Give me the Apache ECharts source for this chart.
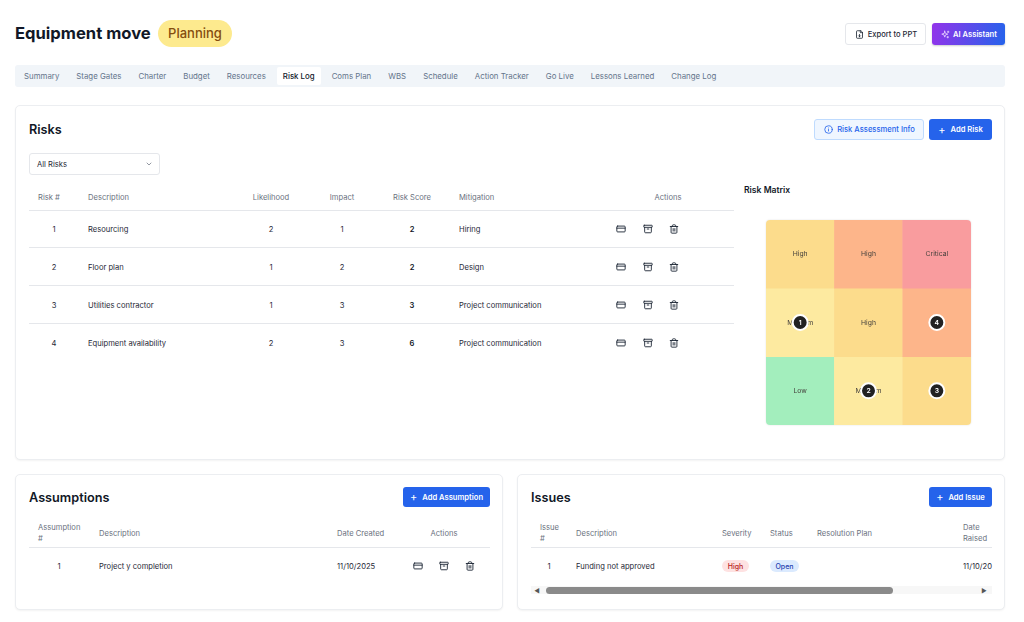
<!DOCTYPE html>
<html>
<head>
<meta charset="utf-8">
<title>Risk Log</title>
<script src="https://cdn.jsdelivr.net/npm/echarts@6/dist/echarts.min.js"></script>
<style>
html,body{margin:0;padding:0;background:#fff;width:1024px;height:622px;overflow:hidden;font-family:Inter,"Noto Sans",sans-serif;color:#1f2937}
body{position:relative;z-index:0;filter:blur(.4px)}
.abs{position:absolute;white-space:nowrap;line-height:1}
.card{position:absolute;box-sizing:border-box;background:#fff;border:1px solid #eceef1;border-radius:5px;box-shadow:0 1px 2px rgba(0,0,0,.05)}
.btn{position:absolute;box-sizing:border-box;display:flex;align-items:center;justify-content:center;border-radius:3px;font-size:7.6px;font-weight:600;white-space:nowrap}
.blue{background:#2563eb;color:#fff}
.line{position:absolute;height:1px;background:#e5e7eb}
.pill{position:absolute;display:flex;align-items:center;justify-content:center;border-radius:7px;font-size:7px;font-weight:500}
h2{position:absolute;margin:0;font-size:12.7px;line-height:1;font-weight:600;color:#111827}
#tabs{position:absolute;left:15px;top:65px;width:990px;height:22px;background:#f1f5f9;border-radius:3px;display:flex;align-items:center;padding-left:3px;box-sizing:border-box}
#tabs div{padding:0 6px;margin-right:5px;height:18px;line-height:18px;font-size:7.85px;color:#64748b;white-space:nowrap;border-radius:2px}
#tabs div.on{background:#fff;color:#0f172a;font-weight:500}
#matrix{position:absolute;left:766px;top:220px;width:205px;height:205px;border-radius:4px;overflow:hidden;box-shadow:0 0 2px rgba(0,0,0,.12)}
svg{position:absolute;fill:none;stroke:#1f2937;stroke-width:2.2;stroke-linecap:round;stroke-linejoin:round}
</style>
</head>
<body>
<div id="tabs"></div>
<div id="matrix"></div>
<script>
// page data
var tabs = ['Summary','Stage Gates','Charter','Budget','Resources','Risk Log','Coms Plan','WBS','Schedule','Action Tracker','Go Live','Lessons Learned','Change Log'];
var riskIds = [1, 2, 3, 4];
var riskNames = ['Resourcing', 'Floor plan', 'Utilities contractor', 'Equipment availability'];
var riskLikelihood = [2, 1, 1, 2];
var riskImpact = [1, 2, 3, 3];
var riskScore = [2, 2, 3, 6];
var riskMitigation = ['Hiring', 'Design', 'Project communication', 'Project communication'];
// risk matrix
var impactLevels = ['1', '2', '3'];
var likelihoodLevels = ['1', '2', '3'];
var cellScores = [[1, 2, 3], [2, 4, 6], [3, 6, 9]];
var cellLabels = [['Low','Medium','High'], ['Medium','High','High'], ['High','High','Critical']];
var cellColors = [['#a3eebd','#fdeaa0','#fcdc8c'], ['#fdeaa0','#fcdc8c','#fdb58a'], ['#fcdc8c','#fdb58a','#f99c9e']];

var icons = {
	card:'<rect x="2" y="5" width="20" height="14" rx="2"/><path d="M2 10h20"/>',
	archive:'<rect x="2" y="3" width="20" height="5" rx="1"/><path d="M4 8v11a2 2 0 0 0 2 2h12a2 2 0 0 0 2-2V8M10 12h4"/>',
	trash:'<path d="M3 6h18M19 6v14a2 2 0 0 1-2 2H7a2 2 0 0 1-2-2V6M8 6V4a2 2 0 0 1 2-2h4a2 2 0 0 1 2 2v2M10 11v6M14 11v6"/>',
	file:'<path d="M15 2H6a2 2 0 0 0-2 2v16a2 2 0 0 0 2 2h12a2 2 0 0 0 2-2V7z"/><path d="M14 2v5h6M12 12v6M9.5 15.5L12 18l2.5-2.5"/>',
	info:'<circle cx="12" cy="12" r="10"/><path d="M12 16v-4M12 8h.01"/>',
	spark:'<path d="M10 3l2 6 6 2-6 2-2 6-2-6-6-2 6-2zM19 3v4M21 5h-4M18 17v4M20 19h-4"/>',
	plus:'<path d="M5 12h14M12 5v14"/>',
	chevron:'<path d="M6 9l6 6 6-6"/>'
};

function add(html){
	var d = document.createElement('div');
	d.innerHTML = html;
	var el = d.firstChild;
	document.body.appendChild(el);
	return el;
}
// x is the left edge, or the middle when align is 'c'
function text(x, y, str, size, color, weight, align){
	var el = add('<div class="abs"></div>');
	el.textContent = str;
	el.style.left = x + 'px';
	el.style.top = (y + 0.7) + 'px';
	el.style.fontSize = (size || 8) + 'px';
	el.style.color = color || '#1f2937';
	el.style.fontWeight = weight || 400;
	el.style.transform = align == 'c' ? 'translate(-50%,-50%)' : 'translateY(-50%)';
	return el;
}
function icon(name, cx, cy, size, color){
	var s = size || 10;
	return add('<svg viewBox="0 0 24 24" width="'+s+'" height="'+s+'" style="left:'+(cx-s/2)+'px;top:'+(cy-s/2)+'px;stroke:'+(color||'#1f2937')+'">'+icons[name]+'</svg>');
}
function box(cls, x, y, w, h, extra){
	var el = add('<div class="'+cls+'"></div>');
	el.style.cssText = 'left:'+x+'px;top:'+y+'px;width:'+w+'px;height:'+h+'px;'+(extra||'');
	return el;
}
function hline(x1, x2, y){ box('line', x1, y, x2-x1, 1); }
function actions(xs, y){
	icon('card', xs[0], y);
	icon('archive', xs[1], y);
	icon('trash', xs[2], y);
}
function blueButton(x, y, w, h, label){
	var b = box('btn blue', x, y, w, h);
	b.innerHTML = '<span style="font-size:11px;font-weight:400;margin-right:5px">+</span>' + label;
}

// header
text(15, 32.3, 'Equipment move', 16.6, '#111827', 700);
var pill = box('pill', 158, 20, 74, 27, 'background:#fdea8e;border-radius:14px;font-size:13px;color:#854d0e;font-weight:500;padding-bottom:1px;box-sizing:border-box');
pill.textContent = 'Planning';
var b = box('btn', 845, 23, 81, 22, 'background:#fff;border:1px solid #e5e7eb;color:#1f2937;font-weight:500;padding-left:14px');
b.textContent = 'Export to PPT';
icon('file', 859, 34, 9);
b = box('btn', 932, 23, 73, 22, 'background:linear-gradient(100deg,#9333ea,#2563eb);color:#fff;padding-left:13px;box-shadow:0 1px 2px rgba(0,0,0,.2)');
b.textContent = 'AI Assistant';
icon('spark', 945, 34, 9, '#e9d5ff');

// tabs
tabs.forEach(function(t){
	var el = document.createElement('div');
	el.textContent = t;
	if (t == 'Risk Log') el.className = 'on';
	document.getElementById('tabs').appendChild(el);
});

// risks card
box('card', 15, 105, 990, 355).style.zIndex = -1;
add('<h2 style="left:29px;top:124px">Risks</h2>');
b = box('btn', 814, 119, 110, 21, 'background:#eff6ff;border:1px solid #bfdbfe;color:#2563eb;font-weight:500;padding-left:14px');
b.textContent = 'Risk Assessment Info';
icon('info', 828, 129.5, 9, '#2563eb');
blueButton(929, 119, 63, 21, 'Add Risk');
box('abs', 29, 153, 131, 22, 'box-sizing:border-box;border:1px solid #e5e7eb;border-radius:3px');
text(37, 164, 'All Risks', 7.6);
icon('chevron', 149, 164, 8, '#6b7280');

var headColor = '#6b7280';
text(38, 197, 'Risk #', 7.6, headColor);
text(88, 197, 'Description', 7.6, headColor);
text(271, 197, 'Likelihood', 7.6, headColor, 400, 'c');
text(342, 197, 'Impact', 7.6, headColor, 400, 'c');
text(412, 197, 'Risk Score', 7.6, headColor, 400, 'c');
text(459, 197, 'Mitigation', 7.6, headColor);
text(668, 197, 'Actions', 7.6, headColor, 400, 'c');
hline(29, 734, 210);
var rowY = [229, 267, 305, 343];
var rowLine = [247, 285, 323];
riskIds.forEach(function(id, i){
	var y = rowY[i];
	text(54, y, id, 7.6, '#1f2937', 400, 'c');
	text(88, y, riskNames[i], 7.6);
	text(271, y, riskLikelihood[i], 7.6, '#1f2937', 400, 'c');
	text(342, y, riskImpact[i], 7.6, '#1f2937', 400, 'c');
	text(412, y, riskScore[i], 7.6, '#111827', 600, 'c');
	text(459, y, riskMitigation[i], 7.6);
	actions([621, 648, 674], y);
	if (rowLine[i]) hline(29, 734, rowLine[i]);
});
text(744, 189.3, 'Risk Matrix', 8.6, '#111827', 600);

// assumptions card
box('card', 15, 474, 488, 136).style.zIndex = -1;
add('<h2 style="left:29px;top:492px">Assumptions</h2>');
blueButton(403, 487, 87, 20, 'Add Assumption');
text(38, 527, 'Assumption', 7.6, headColor);
text(38, 538, '#', 7.6, headColor);
text(99, 533, 'Description', 7.6, headColor);
text(337, 533, 'Date Created', 7.6, headColor);
text(444, 533, 'Actions', 7.6, headColor, 400, 'c');
hline(29, 490, 547);
text(59, 566, '1', 7.6, '#1f2937', 400, 'c');
text(99, 566, 'Project y completion', 7.6);
text(337, 566, '11/10/2025', 7.6);
actions([418, 444, 470], 566);

// issues card
box('card', 517, 474, 488, 136).style.zIndex = -1;
add('<h2 style="left:531px;top:492px">Issues</h2>');
blueButton(929, 487, 63, 20, 'Add Issue');
text(540, 527, 'Issue', 7.6, headColor);
text(540, 538, '#', 7.6, headColor);
text(576, 533, 'Description', 7.6, headColor);
text(722, 533, 'Severity', 7.6, headColor);
text(770, 533, 'Status', 7.6, headColor);
text(817, 533, 'Resolution Plan', 7.6, headColor);
text(963, 527, 'Date', 7.6, headColor);
text(963, 538, 'Raised', 7.6, headColor);
hline(531, 992, 547);
text(549, 566, '1', 7.6, '#1f2937', 400, 'c');
text(576, 566, 'Funding not approved', 7.6);
box('pill', 722, 560, 27, 12, 'background:#fee2e2;color:#b91c1c').textContent = 'High';
box('pill', 770, 560, 29, 12, 'background:#dbeafe;color:#1e40af').textContent = 'Open';
text(963, 566, '11/10/20', 7.6);
// scrollbar
box('abs', 531, 586, 461, 8, 'background:#f7f7f7');
box('abs', 546, 587, 347, 7, 'background:#8a8a8a;border-radius:4px');
text(537, 590, '\u25C0', 6, '#555', 400, 'c');
text(984, 590, '\u25B6', 6, '#555', 400, 'c');

// risk matrix
var heatData = [];
likelihoodLevels.forEach(function(l, row){
	impactLevels.forEach(function(m, col){
		heatData.push({
			name: cellLabels[row][col],
			value: [col, row, cellScores[row][col]],
			itemStyle: {color: cellColors[row][col]}
		});
	});
});
var pointData = riskIds.map(function(id, i){
	return [riskImpact[i] - 1, riskLikelihood[i] - 1, id];
});

var dom = document.getElementById('matrix');
var myChart = echarts.init(dom);
var option = {
	animation: false,
	textStyle: {fontFamily: 'Inter'},
	grid: {left: 0, right: 0, top: 0, bottom: 0},
	xAxis: {type: 'category', data: impactLevels, show: false},
	yAxis: {type: 'category', data: likelihoodLevels, show: false},
	series: [
		{
			type: 'heatmap',
			data: heatData,
			itemStyle: {borderWidth: 0},
			label: {
				show: true,
				fontSize: 6.8,
				color: '#44403c',
				formatter: function(p){ return p.name; }
			}
		},
		{
			type: 'scatter',
			data: pointData,
			symbolSize: 15,
			itemStyle: {color: '#222222', borderColor: '#ffffff', borderWidth: 2, opacity: 1},
			label: {
				show: true,
				position: 'inside',
				fontSize: 6.8,
				fontWeight: 600,
				color: '#ffffff',
				formatter: function(p){ return p.value[2]; }
			},
			z: 5
		}
	]
};
myChart.setOption(option);
</script>
</body>
</html>
